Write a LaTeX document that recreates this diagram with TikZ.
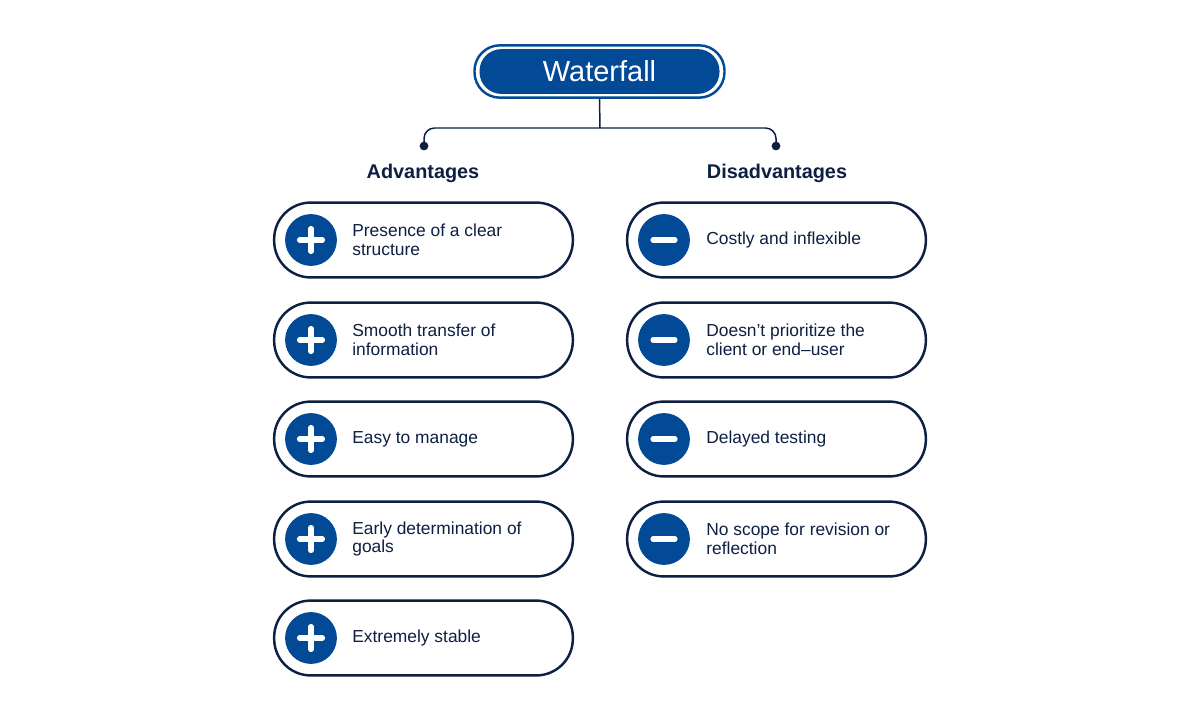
\documentclass[tikz,border=0pt]{standalone}
\usepackage{fontspec}
\setmainfont{Liberation Sans}
\definecolor{navy}{HTML}{0D1F42}
\definecolor{wblue}{HTML}{034A96}
\begin{document}
\begin{tikzpicture}[x=0.02cm,y=-0.02cm,
  pill/.style={draw=navy, line width=1.4pt, fill=white, rounded corners=20.8pt, minimum width=170pt, minimum height=42.6pt, inner sep=0pt},
  badge/.style={circle, fill=wblue, minimum size=29.5pt, inner sep=0pt},
  sign/.style={draw=white, line width=2.9pt, line cap=round},
  item/.style={anchor=west, align=left, inner sep=0pt, text=navy, font=\fontsize{9.9pt}{10.8pt}\selectfont},
  head/.style={text=navy, font=\fontsize{11.3pt}{13pt}\selectfont\bfseries, inner sep=0pt},
  conn/.style={draw=navy, line width=0.85pt},
  dot/.style={circle, fill=navy, minimum size=5pt, inner sep=0pt}]
\useasboundingbox (0,0) rectangle (1200,720);
% title
\node[draw=wblue, line width=1.4pt, fill=white, rounded corners=14.5pt, minimum width=142.3pt, minimum height=29.8pt, inner sep=0pt] (title) at (599.5,71.5) {};
\node[fill=wblue, rounded corners=12.5pt, minimum width=136.6pt, minimum height=25.5pt, inner sep=0pt, text=white, font=\fontsize{16.5pt}{19pt}\selectfont] (titletext) at (599.5,71.5) {Waterfall};
% connectors
\coordinate (jn) at (600,128);
\node[dot] (dl) at (424,146) {};
\node[dot] (dr) at (776,146) {};
\draw[conn] (title.south) -- (jn);
\draw[conn, rounded corners=6pt] (dl.center) |- (jn) -| (dr.center);
% headings
\node[head] (hadv) at (423,173) {Advantages};
\node[head] (hdis) at (777,173) {Disadvantages};
% advantages
\foreach \i/\cy/\txt in {1/240/{Presence of a clear\\structure}, 2/340/{Smooth transfer of\\information}, 3/439/{Easy to manage}, 4/539/{Early determination of\\goals}, 5/638/{Extremely stable}}{
  \node[pill] (a\i) at (423.5,\cy) {};
  \node[badge] (ca\i) at (311,\cy) {};
  \draw[sign] (ca\i.center) ++(-11.5,0) -- ++(23,0);
  \draw[sign] (ca\i.center) ++(0,-11.5) -- ++(0,23);
  \node[item] (ta\i) at (352,\cy) {\txt};
}
% disadvantages
\foreach \i/\cy/\txt in {1/240/{Costly and inflexible}, 2/340/{Doesn't prioritize the\\client or end–user}, 3/439/{Delayed testing}, 4/539/{No scope for revision or\\reflection}}{
  \node[pill] (d\i) at (776.5,\cy) {};
  \node[badge] (cd\i) at (664,\cy) {};
  \draw[sign] (cd\i.center) ++(-11,0) -- ++(22,0);
  \node[item] (td\i) at (706,\cy) {\txt};
}
\end{tikzpicture}
\end{document}
